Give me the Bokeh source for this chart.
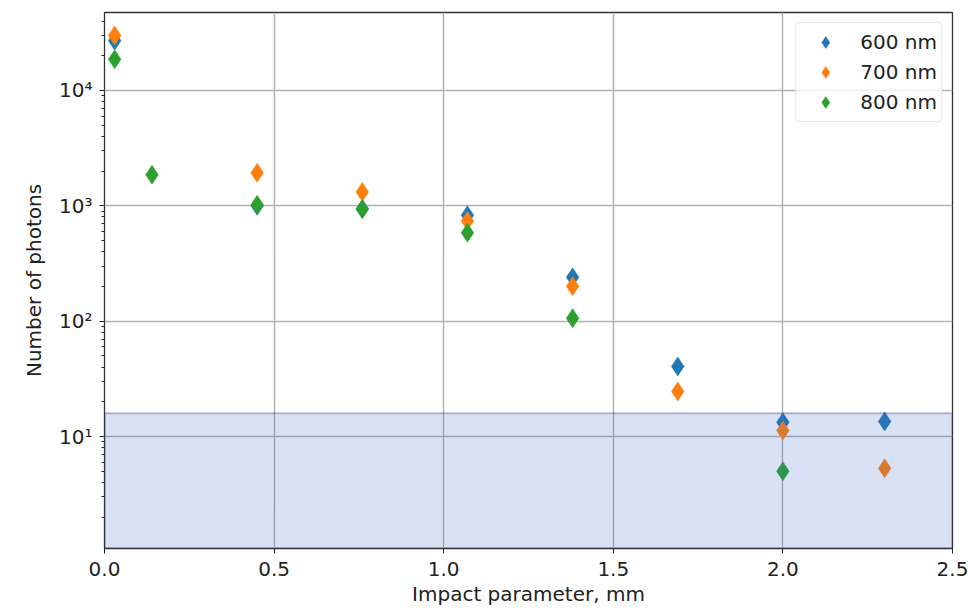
from bokeh.plotting import figure
from bokeh.models import Range1d, FixedTicker, PrintfTickFormatter, Legend, LegendItem
from bokeh.embed import file_html
from bokeh.resources import INLINE

# data
x_600 = [0.03, 0.45, 0.76, 1.07, 1.38, 1.69, 2.00, 2.30]
y_600 = [27000, 1000, 940, 830, 240, 40.5, 13.3, 13.5]
x_700 = [0.03, 0.45, 0.76, 1.07, 1.38, 1.69, 2.00, 2.30]
y_700 = [30000, 1930, 1320, 740, 201, 24.6, 11.3, 5.3]
x_800 = [0.03, 0.14, 0.45, 0.76, 1.07, 1.38, 2.00]
y_800 = [18600, 1860, 1020, 940, 583, 106, 5.0]
labels = ["600 nm", "700 nm", "800 nm"]
colors = ["#1f77b4", "#ff7f0e", "#2ca02c"]
band_bottom = 1.07
band_top = 15.9
x_ticks = [0.0, 0.5, 1.0, 1.5, 2.0, 2.5]
y_ticks = [10, 100, 1000, 10000]
y_tick_labels = ["10¹", "10²", "10³", "10⁴"]

FONT = "DejaVu Sans"
FS = "20px"

p = figure(width=968, height=610, output_backend="svg", toolbar_location=None,
           y_axis_type="log", x_range=Range1d(0, 2.5), y_range=Range1d(1.07, 47400),
           min_border_left=104, min_border_right=16, min_border_top=12, min_border_bottom=62)
p.background_fill_color = "white"
p.border_fill_color = "white"
p.outline_line_color = "#333333"
p.outline_line_width = 1.3

renderers = []
for xs, ys, c in [(x_600, y_600, colors[0]), (x_700, y_700, colors[1]), (x_800, y_800, colors[2])]:
    r = p.scatter(xs, ys, marker="diamond", size=19, fill_color=c, line_color=c, line_width=0.5)
    renderers.append(r)

# shaded region drawn above the points
p.quad(left=[0], right=[2.5], bottom=[band_bottom], top=[band_top],
       fill_color="#4068c8", fill_alpha=0.2, line_color="#1a2a5a", line_alpha=0.3, line_width=2)

# axes
p.xaxis.ticker = FixedTicker(ticks=x_ticks)
p.xaxis.formatter = PrintfTickFormatter(format="%.1f")
minor = [m * 10 ** e for e in range(0, 5) for m in range(2, 10)]
p.yaxis.ticker = FixedTicker(ticks=y_ticks, minor_ticks=minor)
p.yaxis.major_label_overrides = {t: l for t, l in zip(y_ticks, y_tick_labels)}

for ax in [p.xaxis[0], p.yaxis[0]]:
    ax.axis_line_color = None
    ax.major_tick_line_color = "#222222"
    ax.minor_tick_line_color = "#222222"
    ax.major_tick_in = 0
    ax.major_tick_out = 5
    ax.minor_tick_in = 0
    ax.minor_tick_out = 3
    ax.major_label_text_font = FONT
    ax.major_label_text_font_size = FS
    ax.major_label_text_color = "#222222"
    ax.axis_label_text_font = FONT
    ax.axis_label_text_font_size = FS
    ax.axis_label_text_font_style = "normal"
    ax.axis_label_text_color = "#222222"
p.xaxis.minor_tick_line_color = None
p.xaxis.axis_label = "Impact parameter, mm"
p.yaxis.axis_label = "Number of photons"
p.xaxis.major_label_standoff = 8
p.xaxis.axis_label_standoff = 3
p.yaxis.major_label_standoff = 7
p.yaxis.axis_label_standoff = 10

p.grid.grid_line_color = "#b0b0b0"
p.grid.grid_line_width = 1.4
p.xgrid.ticker = FixedTicker(ticks=x_ticks)
p.ygrid.ticker = FixedTicker(ticks=y_ticks)

legend = Legend(items=[LegendItem(label=l, renderers=[r]) for l, r in zip(labels, renderers)],
                location="top_right")
legend.margin = 10
legend.padding = 4
legend.spacing = 0
legend.label_height = 30
legend.glyph_height = 30
legend.glyph_width = 50
legend.label_standoff = 10
legend.label_text_font = FONT
legend.label_text_font_size = FS
legend.label_text_color = "#222222"
legend.border_line_color = "#cccccc"
legend.border_line_width = 1
legend.background_fill_alpha = 0.8
if "border_radius" in Legend.properties():
    legend.border_radius = 4
p.add_layout(legend)

open("out.html", "w").write(file_html(p, INLINE))
